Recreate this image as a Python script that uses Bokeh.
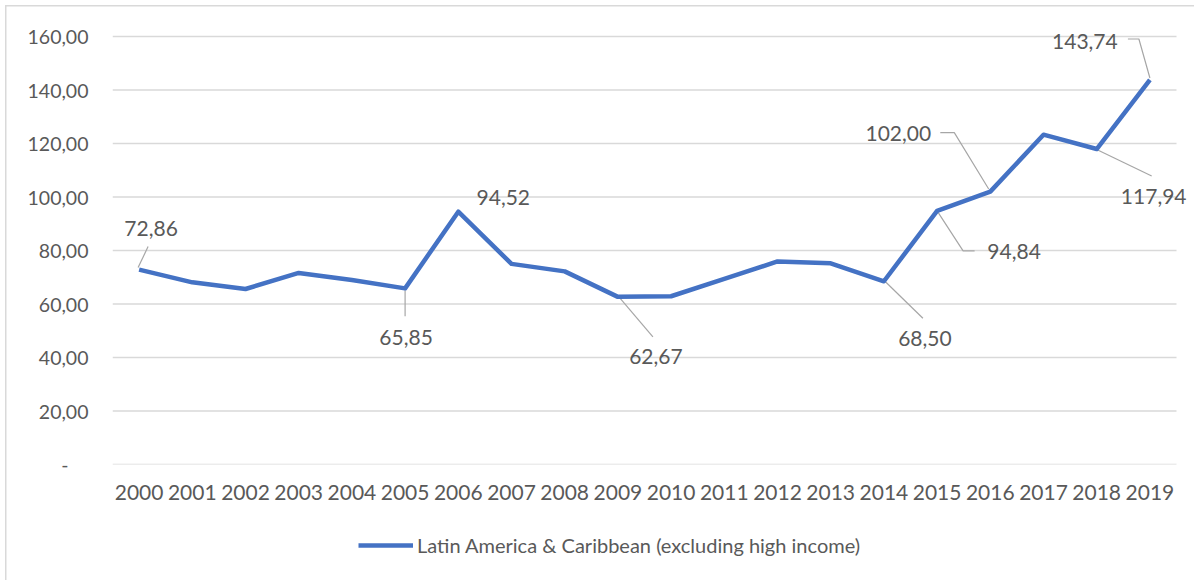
from bokeh.plotting import figure
from bokeh.layouts import column
from bokeh.models import (Range1d, FixedTicker, CustomJSTickFormatter, Legend, LegendItem,
                          ColumnDataSource)
from bokeh.core.properties import value
from bokeh.embed import file_html
from bokeh.resources import INLINE

# ---------------- data ----------------
years = list(range(2000, 2020))
values = [72.86, 68.1, 65.6, 71.6, 69.0, 65.85, 94.52, 75.0, 72.2, 62.67,
          62.9, 69.4, 75.9, 75.2, 68.50, 94.84, 102.00, 123.3, 117.94, 143.74]
series_name = "Latin America & Caribbean (excluding high income)"
y_ticks = [0, 20, 40, 60, 80, 100, 120, 140, 160]

label_years = [2000, 2005, 2006, 2009, 2014, 2015, 2016, 2018, 2019]
label_texts = ["72,86", "65,85", "94,52", "62,67", "68,50", "94,84", "102,00", "117,94", "143,74"]

# ---------------- styles / layout ----------------
FONT = "Lato"
TXT = "#595959"
BLUE = "#4472C4"
GRID = "#d9d9d9"
PLOT_W, PLOT_H = 1064, 428       # plot area (gridded region)
EXTRA_R, EXTRA_T = 16, 10        # extra frame room so labels are not clipped
Y_MAX = 160
px_per_year = PLOT_W / len(years)
px_per_unit = PLOT_H / Y_MAX

# label offsets in screen px (right / down) relative to the data point
label_dx = [12, 1, 45, 38, 41, 77, -92, 57, -65]
label_dy = [-41, 49, -14, 60, 57, 41, -58, 47, -38]
# leader polylines, screen px offsets relative to the data point
leaders = [
    [(-1, -2), (9, -23)],
    [(0, 2), (0, 28)],
    None,
    [(1, 0), (35, 40)],
    [(1, 0), (39, 37)],
    [(0, 0), (26, 40), (37.5, 40)],
    [(-1.6, -2.7), (-36, -59), (-50, -59)],
    [(1, 1), (55, 27)],
    [(0, -2), (-11, -41), (-22, -41)],
]

x0, x1 = years[0] - 0.5, years[-1] + 0.5
p = figure(frame_width=PLOT_W + EXTRA_R, frame_height=PLOT_H + EXTRA_T,
           x_range=Range1d(x0, x1 + EXTRA_R / px_per_year),
           y_range=Range1d(0, Y_MAX + EXTRA_T / px_per_unit),
           output_backend="svg", toolbar_location=None,
           min_border_left=112, min_border_right=2,
           min_border_top=26, min_border_bottom=64)
p.outline_line_color = None
p.background_fill_color = "white"
p.border_fill_color = None

# axes
p.xaxis.ticker = FixedTicker(ticks=years)
p.xaxis.formatter = CustomJSTickFormatter(code="return String(tick);")
p.yaxis.ticker = FixedTicker(ticks=y_ticks)
p.yaxis.formatter = CustomJSTickFormatter(
    code="return tick == 0 ? '-\u00a0\u00a0\u00a0\u00a0' : tick.toFixed(2).replace('.', ',');")
for ax in (p.xaxis[0], p.yaxis[0]):
    ax.axis_line_color = None
    ax.major_tick_line_color = None
    ax.minor_tick_line_color = None
    ax.major_tick_out = 0
    ax.major_tick_in = 0
    ax.major_label_text_font = FONT
    ax.major_label_text_color = TXT
p.xaxis.major_label_text_font_size = "21px"
p.xaxis.major_label_standoff = 20
p.yaxis.major_label_text_font_size = "19.5px"
p.yaxis.major_label_standoff = 24

# gridlines drawn only across the plot area
p.xgrid.visible = False
p.ygrid.visible = False
p.segment(x0=[x0] * len(y_ticks), x1=[x1] * len(y_ticks), y0=y_ticks, y1=y_ticks,
          line_color=GRID, line_width=1.5)

# leaders
lx, ly = [], []
for yr, path in zip(label_years, leaders):
    if path is None:
        continue
    v = values[years.index(yr)]
    lx.append([yr + dx / px_per_year for dx, dy in path])
    ly.append([v - dy / px_per_unit for dx, dy in path])
p.multi_line(lx, ly, line_color="#a6a6a6", line_width=1.2)

# main line
r = p.line(years, values, line_color=BLUE, line_width=4.5, line_join="round")

# labels
lab_src = ColumnDataSource(dict(
    x=label_years,
    y=[values[years.index(yr)] for yr in label_years],
    t=label_texts, dx=label_dx, dy=label_dy))
p.text(x="x", y="y", text="t", x_offset="dx", y_offset="dy", source=lab_src,
       text_font=value(FONT), text_font_size="21px", text_color=TXT,
       text_align="center", text_baseline="middle")

# ---------------- legend strip (separate figure under the chart) ----------------
q = figure(frame_width=1194, frame_height=52, x_range=Range1d(0, 1), y_range=Range1d(0, 1),
           output_backend="svg", toolbar_location=None,
           x_axis_location=None, y_axis_location=None,
           min_border_left=0, min_border_right=0, min_border_top=0, min_border_bottom=0)
q.grid.visible = False
q.outline_line_color = None
q.background_fill_color = None
q.border_fill_color = None
# legend swatch renderer: same styling as the series, kept outside the strip's visible range
rq = q.line(x=[-2, -1], y=[-2, -1], line_color=BLUE, line_width=4.5)
legend = Legend(items=[LegendItem(label=series_name, renderers=[rq])],
                location=(358, 23), orientation="horizontal",
                glyph_width=55, glyph_height=20, label_height=20,
                label_standoff=4, padding=0, margin=0, spacing=0,
                label_text_font=FONT, label_text_font_size="20px",
                label_text_color=TXT, border_line_color=None,
                background_fill_alpha=0)
q.add_layout(legend, "center")

page = column(p, q, spacing=0,
              styles={"box-shadow": "inset 5px 5px 0 0 white, inset 6.5px 6.5px 0 0 #d9d9d9"})

open("out.html", "w").write(file_html(page, INLINE))
